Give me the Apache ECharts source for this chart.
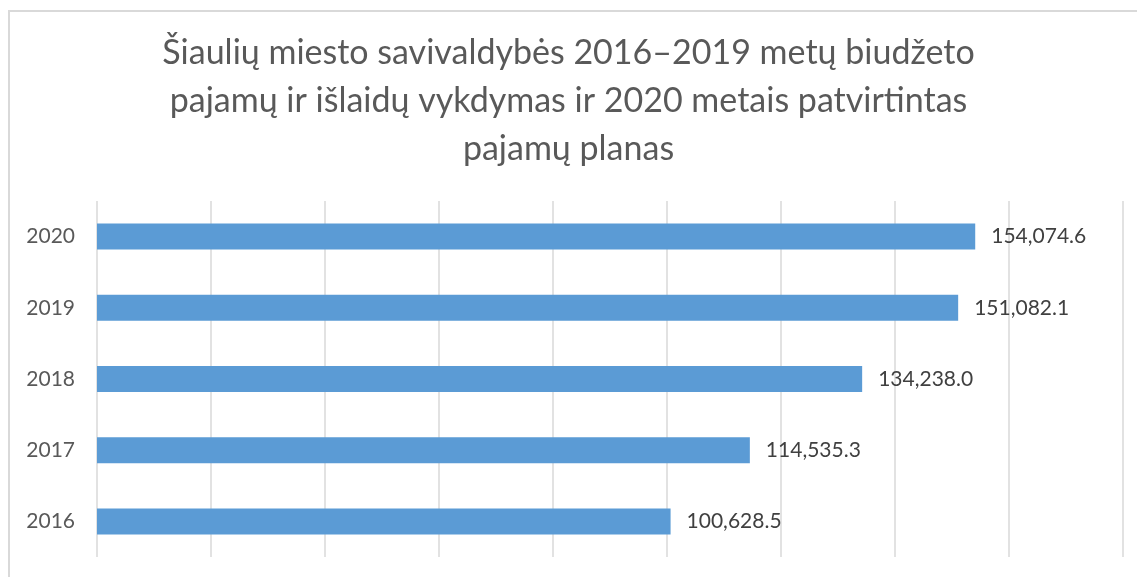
<!DOCTYPE html>
<html>
<head>
<meta charset="utf-8">
<script src="https://cdn.jsdelivr.net/npm/echarts@6/dist/echarts.min.js"></script>
<style>
html, body { margin: 0; padding: 0; background: #fff; }
#chart { width: 1137px; height: 577px; }
</style>
</head>
<body>
<div id="chart"></div>
<script>
// metai ir pajamos (tūkst. Eur)
var years = ['2016', '2017', '2018', '2019', '2020'];
var amounts = [100628.5, 114535.3, 134238.0, 151082.1, 154074.6];
var titleText = 'Šiaulių miesto savivaldybės 2016–2019 metų biudžeto\npajamų ir išlaidų vykdymas ir 2020 metais patvirtintas\npajamų planas';

var fmt = function(v) {
	return v.toLocaleString('en-US', { minimumFractionDigits: 1, maximumFractionDigits: 1 });
};

var chart = echarts.init(document.getElementById('chart'));
chart.setOption({
	backgroundColor: '#fff',
	animation: false,
	title: {
		text: titleText,
		left: 'center',
		top: 24,
		textStyle: {
			fontFamily: 'Lato',
			fontWeight: 'normal',
			fontSize: 34,
			lineHeight: 48,
			color: '#595959'
		}
	},
	graphic: [{
		type: 'rect',
		shape: { x: 9, y: 11, width: 1200, height: 700 },
		style: { fill: 'none', stroke: '#d9d9d9', lineWidth: 2 },
		silent: true
	}],
	grid: {
		left: 97,
		right: 14,
		top: 201,
		bottom: 20,
		containLabel: false
	},
	xAxis: {
		type: 'value',
		min: 0,
		max: 180000,
		interval: 20000,
		axisLabel: { show: false },
		axisLine: { show: false },
		axisTick: { show: false },
		splitLine: { show: true, lineStyle: { color: '#d9d9d9', width: 1.5 } }
	},
	yAxis: {
		type: 'category',
		data: years,
		axisLine: { show: false },
		axisTick: { show: false },
		axisLabel: {
			margin: 22,
			fontFamily: 'Lato',
			fontSize: 21,
			color: '#595959'
		}
	},
	series: [{
		type: 'bar',
		data: amounts,
		barWidth: 26,
		itemStyle: { color: '#5b9bd5' },
		label: {
			show: true,
			position: 'right',
			distance: 16,
			fontFamily: 'Lato',
			fontSize: 21,
			color: '#404040',
			formatter: function(p) { return fmt(p.value); }
		}
	}]
});
</script>
</body>
</html>
